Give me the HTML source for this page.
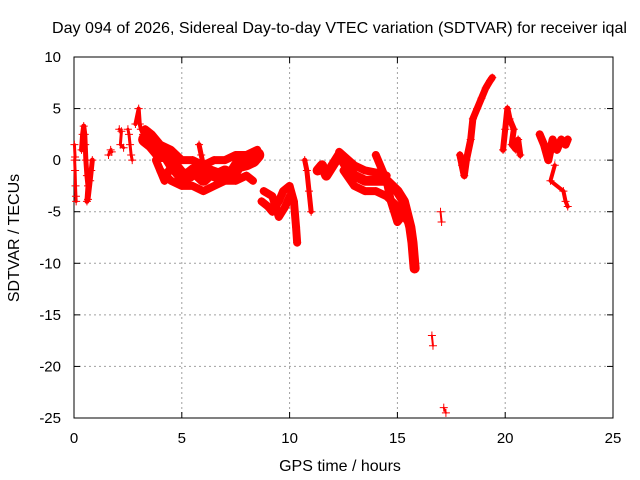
<!DOCTYPE html>
<html><head><meta charset="utf-8"><style>
body{margin:0;background:#fff;}
svg{display:block;font-family:"Liberation Sans",sans-serif;}
</style></head><body>
<svg id="c" width="640" height="480"></svg>
<script>
// tracks: x in hours, y in TECU
const trackXs = [
 [0.02,0.05,0.03,0.05,0.07,0.09,0.1],
 [0.35,0.4,0.45,0.5,0.52,0.55,0.6,0.65,0.6,0.65,0.75,0.8,0.85],
 [1.6,1.7,1.75],
 [2.1,2.2,2.15,2.3],
 [2.5,2.55,2.6,2.65,2.7],
 [2.85,3.0,3.05,3.1,3.2],
 [3.3,3.6,4.0,4.3,4.6,5.0,5.3,5.6,6.0,6.3,6.7,7.0,7.3,7.6,8.0,8.3,8.5],
 [3.3,3.6,4.0,4.5,5.0,5.5,6.0,6.5,7.0,7.5,8.0,8.5],
 [4.0,4.5,5.0,5.5,6.0,6.5,7.0,7.5,8.0,8.3],
 [3.8,4.0,4.2,4.4],
 [5.8,5.9,6.0],
 [8.7,9.0,9.2,9.5,9.7,10.0,10.2,10.3,10.35],
 [8.8,9.2,9.5,9.8,10.0],
 [10.7,10.8,10.9,11.0],
 [11.3,11.5,11.7,12.0,12.3,12.6,13.0,13.5,14.0,14.5,15.0,15.3,15.6,15.7,15.8],
 [12.5,13.0,13.5,14.0,14.5,15.0,15.5],
 [12.3,13.0,13.5,14.0,14.5],
 [14.0,14.3,14.5,14.7,15.0,15.2,15.5],
 [17.0,17.05],
 [16.6,16.65],
 [17.15,17.25],
 [17.9,18.0,18.1,18.2,18.4,18.5,18.7,18.9,19.1,19.3,19.4],
 [19.9,20.0,20.1,20.2,20.4,20.3,20.5,20.6,20.7],
 [21.6,21.8,22.0,22.2,22.4,22.6,22.8,22.9],
 [22.3,22.1,22.7,22.8,22.9]
];
const trackYs = [
 [1.5,0.3,0,-1,-2.5,-3.5,-4],
 [1,2.5,3.3,2.5,1.5,0,-1.5,-2.5,-4,-3.8,-2,-1,0],
 [0.5,1,0.8],
 [3,2.8,1.5,1.2],
 [3,2.5,1.5,0.5,0],
 [3.5,5,3.5,3,2.5],
 [2,1.5,0.5,0.5,-0.5,-1.5,-1.5,-1,-1.8,-1.2,-1.5,-1.2,-1.5,-0.5,-0.3,0,0.5],
 [3,2.5,1.5,1,0,0,-0.5,0,0,0.5,0.5,1],
 [-1,-2,-2.5,-2.5,-3,-2.5,-2,-2,-1.5,-2],
 [0,-1,-2,-1],
 [1.5,0.5,-0.5],
 [-4,-4.5,-5,-4,-3,-2.5,-4,-6.5,-8],
 [-3,-3.5,-5.5,-4.5,-3.5],
 [0,-1,-3,-5],
 [-1,-0.5,-1.5,-0.5,0.5,-0.5,-1.5,-2,-2,-2,-3,-4,-6.5,-8,-10.5],
 [-1,-2.5,-3,-3,-3.5,-4.5,-6],
 [0.8,-0.5,-1,-1.2,-1.5],
 [0.5,-1,-2,-4,-6,-5.5,-5.5],
 [-5,-6],
 [-17,-18],
 [-24,-24.5],
 [0.5,-0.5,-1.5,0,2,4,5,6,7,7.7,8],
 [1,3,5,4,3,1.5,1,2,0.5],
 [2.5,1.5,0,2,1,2,1.5,2],
 [-0.5,-2,-3,-4,-4.5]
];
const trackWidths = [3,5,3,3,3,4,14,8,8,8,5,8,8,5,10,8,8,8,2,2,2,7,6,8,4];
const xTicks = [0,5,10,15,20,25];
const yTicks = [10,5,0,-5,-10,-15,-20,-25];

const L=74,R=613,T=57,B=418;
const sx=v=>L+(v-0)/25*(R-L);
const sy=v=>T+(10-v)/35*(B-T);
const svg=document.getElementById('c');
const NS='http://www.w3.org/2000/svg';
function mk(t,a){const e=document.createElementNS(NS,t);for(const k in a)e.setAttribute(k,a[k]);svg.appendChild(e);return e;}

const title=mk('text',{x:52,y:33,'font-size':16,fill:'#000',textLength:575,lengthAdjust:'spacingAndGlyphs'});
title.textContent='Day 094 of 2026, Sidereal Day-to-day VTEC variation (SDTVAR) for receiver iqal';



xTicks.forEach(v=>{
 const x=sx(v);
 if(v>0&&v<25){const g=mk('line',{x1:x,x2:x,y1:T,y2:B,stroke:'#a0a0a0','stroke-dasharray':'2,3'});
 
 }
 mk('line',{x1:x,x2:x,y1:B,y2:B-6,stroke:'#000'});
 mk('line',{x1:x,x2:x,y1:T,y2:T+6,stroke:'#000'});
 const t=mk('text',{x:x,y:B+25,'text-anchor':'middle','font-size':15});
 t.textContent=v;
 
 
});
yTicks.forEach(v=>{
 const y=sy(v);
 if(v<10&&v>-25){const g=mk('line',{x1:L,x2:R,y1:y,y2:y,stroke:'#a0a0a0','stroke-dasharray':'2,3'});
 
 }
 mk('line',{x1:L,x2:L+6,y1:y,y2:y,stroke:'#000'});
 mk('line',{x1:R,x2:R-6,y1:y,y2:y,stroke:'#000'});
 const t=mk('text',{x:61,y:y+5,'text-anchor':'end','font-size':15});
 t.textContent=v;
 
 
});
const fr=mk('rect',{x:L,y:T,width:R-L,height:B-T,fill:'none',stroke:'#000'});



trackXs.forEach((xs,i)=>{
 const ys=trackYs[i];
 const pts=xs.map((x,j)=>sx(x)+','+sy(ys[j])).join(' ');
 const pl=mk('polyline',{points:pts,fill:'none',stroke:'#f00','stroke-width':trackWidths[i],'stroke-linejoin':'round','stroke-linecap':'round'});
 
 
 xs.forEach((x,j)=>{
  const px=sx(x),py=sy(ys[j]);
  const m=mk('path',{d:`M${px-4},${py}h8M${px},${py-4}v8`,stroke:'#f00','stroke-width':1});
  
  
 });
});

const xl=mk('text',{x:340,y:471,'text-anchor':'middle','font-size':16});
xl.textContent='GPS time / hours';


const yl=mk('text',{x:0,y:0,'text-anchor':'middle','font-size':16,transform:'translate(19,238) rotate(-90)'});
yl.textContent='SDTVAR / TECUs';


</script>
</body></html>
